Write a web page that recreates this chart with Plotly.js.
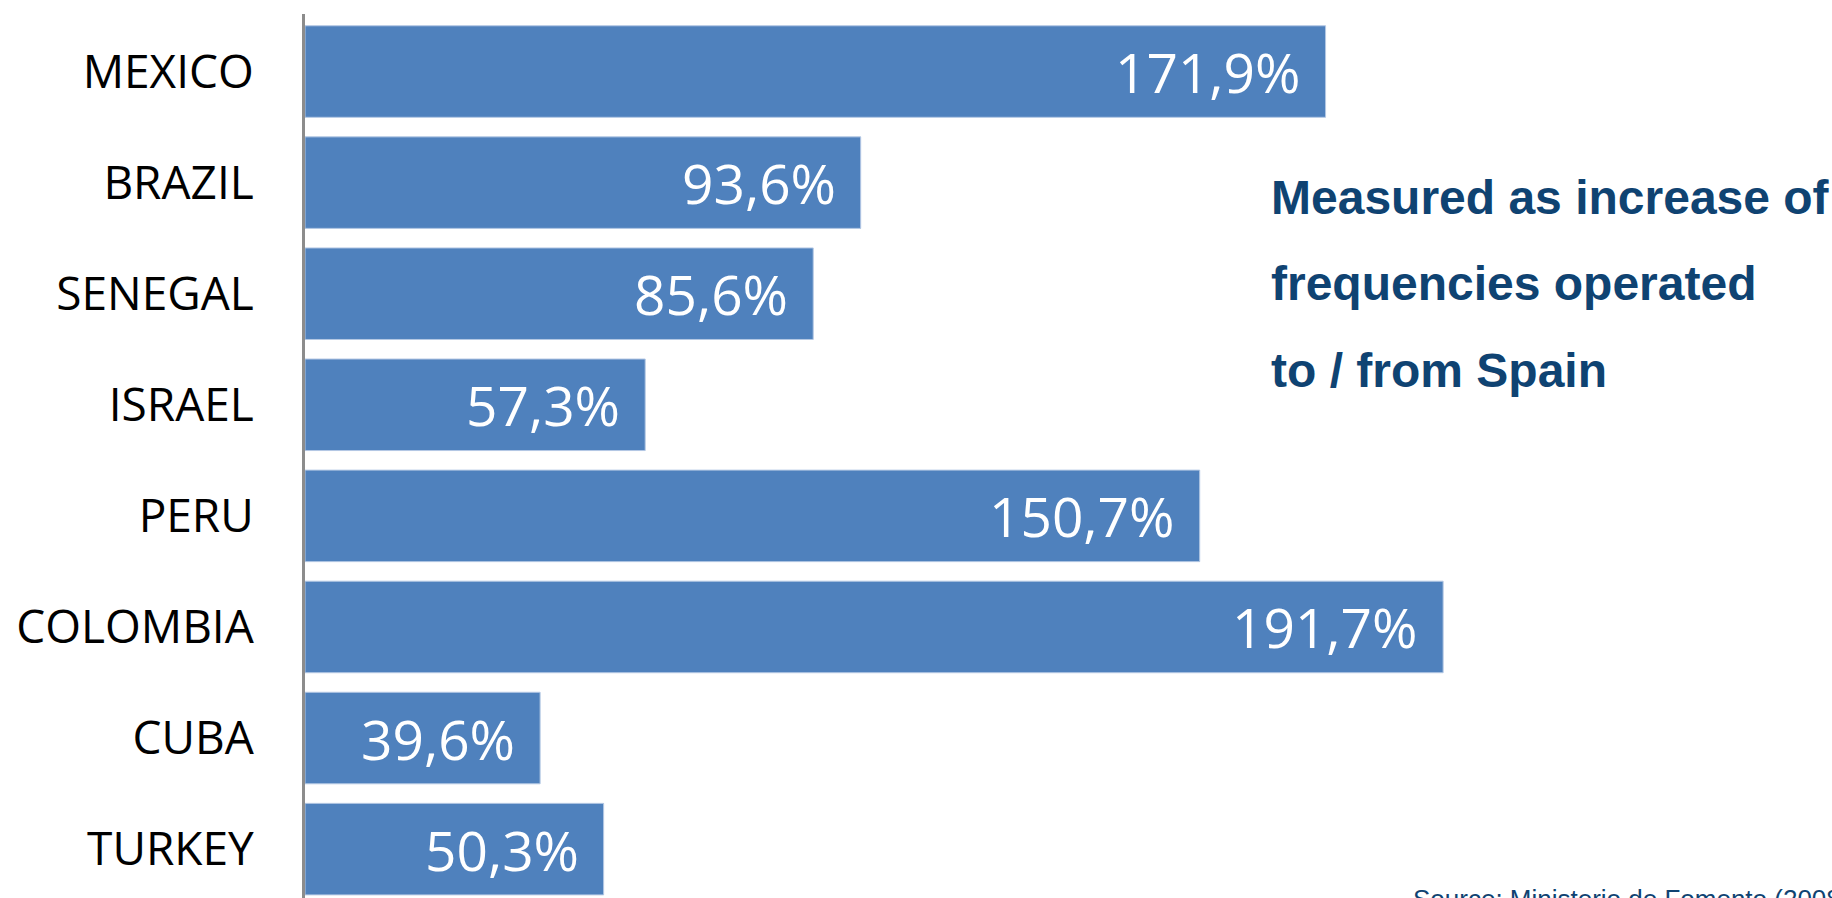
<!DOCTYPE html>
<html>
<head>
<meta charset="utf-8">
<script src="https://cdn.plot.ly/plotly-3.0.1.min.js"></script>
<style>
html,body{margin:0;padding:0;background:#fff;overflow:hidden;}
#chart{width:1832px;height:898px;}
</style>
</head>
<body>
<div id="chart"></div>
<script>
const countries = ["MEXICO","BRAZIL","SENEGAL","ISRAEL","PERU","COLOMBIA","CUBA","TURKEY"];
const increases = [171.9, 93.6, 85.6, 57.3, 150.7, 191.7, 39.6, 50.3];
const noteLines = ["Measured as increase of","frequencies operated","to / from Spain"];
const sourceText = "Source: Ministerio de Fomento (2008)";

const fmt = v => v.toFixed(1).replace('.', ',') + '%';

const trace = {
  type: 'bar',
  orientation: 'h',
  x: increases,
  y: countries,
  marker: {color: '#4f81bd', line: {color: '#b4c8e4', width: 1}},
  width: 0.824,
  hoverinfo: 'none'
};

const annotations = countries.map((c, i) => ({
  x: increases[i], y: c, xref: 'x', yref: 'y',
  text: fmt(increases[i]), showarrow: false,
  xanchor: 'right', yanchor: 'middle', xshift: -23,
  font: {family: 'Open Sans', size: 55, color: '#ffffff'}
}));

noteLines.forEach((t, i) => {
  annotations.push({
    xref: 'paper', yref: 'paper', x: 0.6312, y: 1, xanchor: 'left', yanchor: 'middle',
    yshift: -(197 - 14) - i * 86.5,
    text: '<b>' + t + '</b>', showarrow: false, align: 'left',
    font: {family: 'Liberation Sans, Arial, sans-serif', size: 48, color: '#0f4372'}
  });
});

annotations.push({
  xref: 'paper', yref: 'paper', x: 0.724, y: 0, xanchor: 'left', yanchor: 'top',
  yshift: 16, text: sourceText, showarrow: false,
  font: {family: 'Liberation Sans, Arial, sans-serif', size: 26, color: '#0f4372'}
});

const layout = {
  width: 1832, height: 898,
  margin: {l: 305, r: 0, t: 14, b: 0, pad: 0},
  paper_bgcolor: '#ffffff', plot_bgcolor: '#ffffff',
  showlegend: false,
  bargap: 0.176,
  xaxis: {range: [0, 257.2], visible: false, showgrid: false, zeroline: false, fixedrange: true},
  yaxis: {
    type: 'category', categoryorder: 'array', categoryarray: countries,
    range: [7.44, -0.518],
    showline: true, linecolor: '#8c8c8c', linewidth: 3,
    showgrid: false, zeroline: false, ticks: '',
    ticklabelstandoff: 39,
    tickfont: {family: 'Open Sans', size: 46, color: '#000000'},
    fixedrange: true
  },
  annotations: annotations
};

Plotly.newPlot('chart', [trace], layout, {displayModeBar: false, staticPlot: true});
</script>
</body>
</html>
